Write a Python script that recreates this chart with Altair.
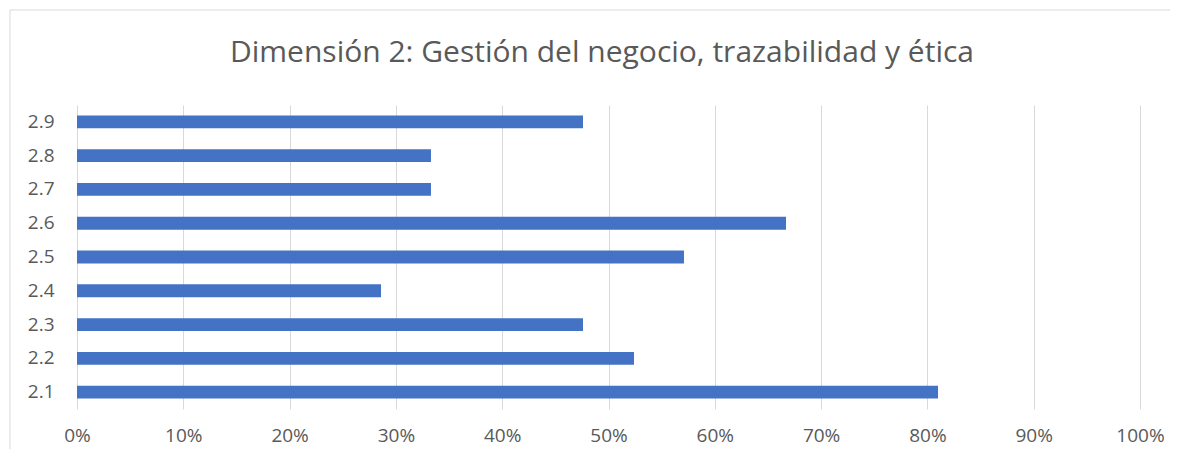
import altair as alt
import pandas as pd

categories = ["2.1", "2.2", "2.3", "2.4", "2.5", "2.6", "2.7", "2.8", "2.9"]
values = [0.810, 0.524, 0.476, 0.286, 0.571, 0.667, 0.333, 0.333, 0.476]
tick_values = [0, 0.1, 0.2, 0.3, 0.4, 0.5, 0.6, 0.7, 0.8, 0.9, 1.0]
title_text = ["Dimensión 2: Gestión del negocio, trazabilidad y ética"]

FONT = "Open Sans"
TXT = "#595959"

df = pd.DataFrame({"item": categories, "pct": values})

bars = alt.Chart(df).mark_bar(color="#4472C4").encode(
    x=alt.X(
        "pct:Q",
        scale=alt.Scale(domain=[0, 1], nice=False),
        axis=alt.Axis(
            values=tick_values,
            format=".0%",
            title=None,
            domain=False,
            ticks=False,
            grid=True,
            gridColor="#d9d9d9",
            labelFlush=False,
            labelColor=TXT,
            labelFont=FONT,
            labelFontSize=19,
            labelPadding=17,
        ),
    ),
    y=alt.Y(
        "item:N",
        sort=alt.SortOrder("descending"),
        scale=alt.Scale(paddingInner=0.62, paddingOuter=0.31),
        axis=alt.Axis(
            title=None,
            domain=False,
            ticks=False,
            labelColor=TXT,
            labelFont=FONT,
            labelFontSize=19,
            labelPadding=23,
        ),
    ),
)

frame = alt.Chart(pd.DataFrame({"a": [0]})).mark_rect(
    fill=None, stroke="#d9d9d9", strokeWidth=1
).encode(
    x=alt.value(-67), x2=alt.value(1095), y=alt.value(-95), y2=alt.value(420)
)

title = alt.Chart(pd.DataFrame({"t": title_text})).mark_text(
    font=FONT, fontSize=30, color=TXT, align="center", baseline="middle"
).encode(
    text="t:N", x=alt.value(525), y=alt.value(-52)
)

chart = alt.layer(frame, bars, title).properties(
    width=1063,
    height=304,
    autosize=alt.AutoSizeParams(type="none"),
    padding={"left": 69, "top": 97, "right": 30, "bottom": 40},
).configure(background="white").configure_view(stroke=None)

chart.save("out.html", embed_options={"renderer": "svg", "actions": False})
